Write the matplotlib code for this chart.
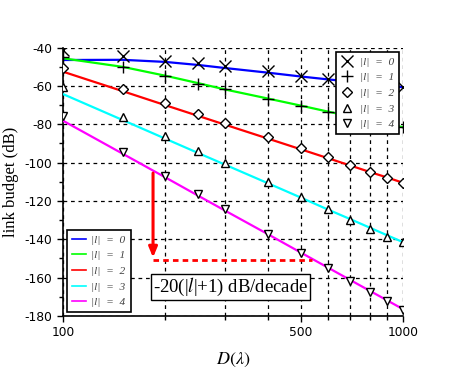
import matplotlib
matplotlib.use('Agg')
import matplotlib.pyplot as plt
from matplotlib.ticker import FixedLocator, NullFormatter

# distance D (in wavelengths) where both curves and markers are sampled
D = [100, 150, 200, 250, 300, 400, 500, 600, 700, 800, 900, 1000]

# theoretical link budget (dB), one curve per OAM order |l|
theory_l0 = [-46.4, -46.3, -47.4, -49.0, -50.6, -53.0, -55.0, -56.5, -57.7, -58.8, -59.8, -60.6]
theory_l1 = [-45.5, -50.0, -54.6, -58.5, -61.8, -66.5, -70.2, -73.3, -75.8, -78.0, -79.9, -81.5]
theory_l2 = [-52.5, -62.7, -70.0, -75.6, -80.2, -87.4, -93.0, -97.6, -101.5, -104.9, -107.8, -110.5]
theory_l3 = [-64.2, -77.8, -87.5, -95.0, -101.1, -110.7, -118.2, -124.4, -129.5, -134.0, -138.0, -141.5]
theory_l4 = [-78.1, -95.4, -107.7, -117.3, -125.1, -137.3, -146.9, -154.7, -161.3, -167.0, -172.0, -176.5]

# simulated points (markers)
sim_l0 = [-41.2, -44.3, -46.8, -48.2, -49.7, -52.2, -54.6, -56.3, -57.5, -58.6, -59.6, -60.5]
sim_l1 = [-45.0, -49.9, -54.9, -59.0, -61.7, -66.6, -70.4, -73.7, -76.0, -78.0, -80.0, -81.5]
sim_l2 = [-50.8, -61.3, -68.9, -74.6, -79.5, -86.6, -92.5, -97.2, -101.4, -104.9, -107.8, -110.5]
sim_l3 = [-60.3, -76.0, -86.1, -93.8, -100.4, -110.0, -118.1, -124.2, -130.0, -134.5, -138.7, -141.6]
sim_l4 = [-75.5, -94.6, -106.8, -116.6, -124.4, -137.3, -147.0, -155.0, -161.6, -167.4, -172.4, -176.9]

orders = [0, 1, 2, 3, 4]
line_colors = ['#0000ff', '#00ff00', '#ff0000', '#00ffff', '#ff00ff']
markers = ['x', '+', 'D', '^', 'v']
marker_sizes = [8.5, 8, 5.5, 6, 6]

# annotation: slope arrow
arrow_D = 184
arrow_top, arrow_bottom = -104, -151
dash_end_D = 540

serif = ['Liberation Serif', 'DejaVu Serif']
plt.rcParams['mathtext.fontset'] = 'stix'
plt.rcParams['axes.unicode_minus'] = False

fig = plt.figure(figsize=(4.6, 3.76), dpi=100)
ax = fig.add_axes([0.137, 0.16, 0.739, 0.713])

theory = [theory_l0, theory_l1, theory_l2, theory_l3, theory_l4]
sims = [sim_l0, sim_l1, sim_l2, sim_l3, sim_l4]

line_handles = []
marker_handles = []
for l, col, mk, ms, th, sm in zip(orders, line_colors, markers, marker_sizes, theory, sims):
    h, = ax.plot(D, th, '-', color=col, lw=1.6, label=f'|l|  =  {l}', zorder=3)
    line_handles.append(h)
    m, = ax.plot(D, sm, linestyle='none', marker=mk, ms=ms, mec='black',
                 mfc='white', mew=1.0, label=f'|l|  =  {l}', zorder=4)
    marker_handles.append(m)

ax.set_xscale('log')
ax.set_xlim(100, 1000)
ax.set_ylim(-180, -40)
ax.xaxis.set_major_locator(FixedLocator([100, 500, 1000]))
ax.xaxis.set_minor_locator(FixedLocator([200, 300, 400, 600, 700, 800, 900]))
ax.xaxis.set_minor_formatter(NullFormatter())
ax.set_xticklabels(['100', '500', '1000'])
ax.set_yticks(range(-180, -39, 20))
ax.set_yticks(range(-180, -39, 10), minor=True)
ax.tick_params(labelsize=8.8, length=4, width=1)
ax.tick_params(which='minor', length=3, width=1)

ax.grid(True, which='major', axis='both', color='black', ls=(0, (3, 3)), lw=0.9)
ax.grid(True, which='minor', axis='x', color='black', ls=(0, (3, 3)), lw=0.9)
ax.set_axisbelow(True)
for side in ['top', 'right']:
    ax.spines[side].set_visible(False)
ax.spines['left'].set_linewidth(1.2)
ax.spines['bottom'].set_linewidth(1.2)

ax.set_xlabel(r'$D(\lambda)$', fontsize=13, labelpad=8)
ax.set_ylabel('link budget (dB)', fontsize=12, family=serif)

# slope annotation
ax.annotate('', xy=(arrow_D, arrow_bottom), xytext=(arrow_D, arrow_top),
            arrowprops=dict(arrowstyle='-|>,head_width=0.25,head_length=0.6',
                            color='#ff0000', lw=2.2), zorder=5)
ax.plot([arrow_D, dash_end_D], [arrow_bottom + 0.3, arrow_bottom + 0.3],
        color='#ff0000', lw=2, ls=(0, (2, 1.5)), zorder=5)
ax.text(311, -165, r'-20(|$\mathit{l}$|+1) dB/decade', fontsize=13.5, family=serif,
        ha='center', va='center', zorder=6,
        bbox=dict(boxstyle='square,pad=0.12', fc='white', ec='black', lw=1))

leg_props = dict(family=serif, style='italic', size=8.2)
leg1 = ax.legend(handles=marker_handles, loc='upper right', bbox_to_anchor=(0.988, 0.984),
                 prop=leg_props, frameon=True, fancybox=False, edgecolor='black',
                 framealpha=1, handlelength=1.2, handletextpad=0.5, labelspacing=0.5,
                 borderpad=0.42, borderaxespad=0, labelcolor='#444444')
leg1.get_frame().set_linewidth(1.2)
leg1.set_zorder(7)
ax.add_artist(leg1)
leg2 = ax.legend(handles=line_handles, loc='lower left', bbox_to_anchor=(0.011, 0.014),
                 prop=leg_props, frameon=True, fancybox=False, edgecolor='black',
                 framealpha=1, handlelength=1.25, handletextpad=0.5, labelspacing=0.5,
                 borderpad=0.42, borderaxespad=0, labelcolor='#444444')
leg2.get_frame().set_linewidth(1.2)
leg2.set_zorder(7)
for h in leg2.get_lines():
    h.set_linewidth(1.2)

fig.savefig('out.png', dpi=100)
